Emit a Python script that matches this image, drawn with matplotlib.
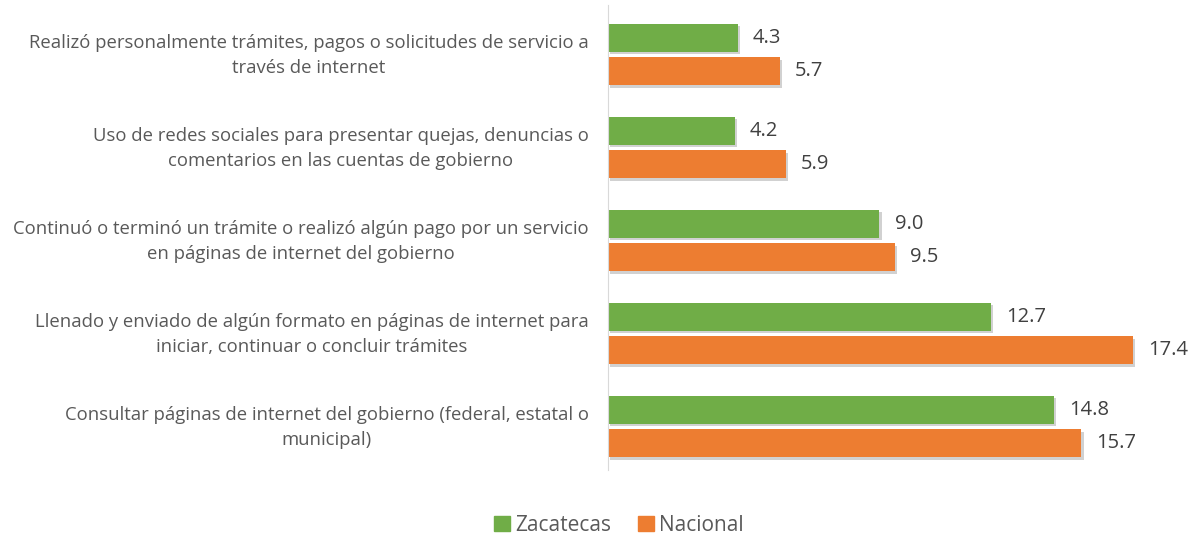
import matplotlib.pyplot as plt
import matplotlib.patheffects as pe
import matplotlib.transforms as mtransforms
from matplotlib.patches import Patch
import numpy as np

categorias = [
    'Realizó personalmente trámites, pagos o solicitudes de servicio a\ntravés de internet',
    'Uso de redes sociales para presentar quejas, denuncias o\ncomentarios en las cuentas de gobierno',
    'Continuó o terminó un trámite o realizó algún pago por un servicio\nen páginas de internet del gobierno',
    'Llenado y enviado de algún formato en páginas de internet para\niniciar, continuar o concluir trámites',
    'Consultar páginas de internet del gobierno (federal, estatal o\nmunicipal)',
]
zacatecas = [4.3, 4.2, 9.0, 12.7, 14.8]
nacional = [5.7, 5.9, 9.5, 17.4, 15.7]

verde = '#70AD47'
naranja = '#ED7D31'
gris = '#404040'
gris_claro = '#595959'

plt.rcParams['font.family'] = ['Open Sans', 'DejaVu Sans']

fig = plt.figure(figsize=(11.99, 5.36), dpi=100)
ax = fig.add_axes([608 / 1199, 1 - 470 / 536, 1 - 608 / 1199 - 0.015, 465 / 536])

y = np.arange(len(categorias))
h = 0.3
sombra = [pe.SimplePatchShadow(offset=(1.5, -2), shadow_rgbFace='#999999', alpha=0.45), pe.Normal()]
b1 = ax.barh(y - 0.18, zacatecas, height=h, color=verde, path_effects=sombra)
b2 = ax.barh(y + 0.18, nacional, height=h, color=naranja, path_effects=sombra)

for bars, vals in ((b1, zacatecas), (b2, nacional)):
    for bar, v in zip(bars, vals):
        ax.text(v + 0.5, bar.get_y() + bar.get_height() / 2, f'{v:.1f}',
                va='center', ha='left', fontsize=14.5, color=gris)

ax.set_xlim(0, 19)
ax.set_ylim(4.47, -0.53)
ax.set_yticks(y)
ax.set_yticklabels(categorias, fontsize=13.35, color=gris_claro,
                   multialignment='center', linespacing=1.45)
ax.tick_params(axis='y', length=0, pad=14)
# subir un poco las etiquetas
desplaza = mtransforms.ScaledTranslation(0, 4 / 100, fig.dpi_scale_trans)
for lab in ax.get_yticklabels():
    lab.set_transform(lab.get_transform() + desplaza)
ax.set_xticks([])
for s in ['top', 'right', 'bottom']:
    ax.spines[s].set_visible(False)
ax.spines['left'].set_color('#D9D9D9')

handles = [Patch(color=verde, label='Zacatecas'), Patch(color=naranja, label='Nacional')]
fig.legend(handles=handles, loc='lower center', bbox_to_anchor=(0.516, -0.035), ncol=2,
           frameon=False, fontsize=15, handlelength=0.75, handleheight=0.75,
           handletextpad=0.25, columnspacing=1.3, labelcolor=gris_claro)

fig.savefig('out.png', dpi=100)
